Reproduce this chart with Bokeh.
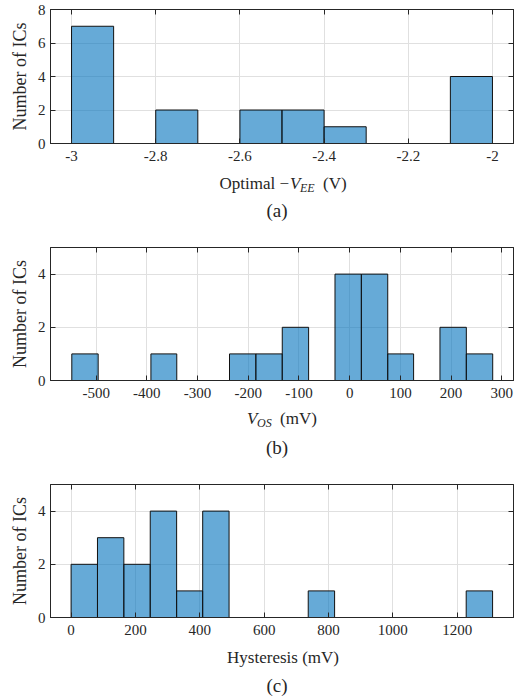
from bokeh.plotting import figure
from bokeh.models import ColumnDataSource, Range1d, FixedTicker, LinearAxis
from bokeh.layouts import column
from bokeh.embed import file_html
from bokeh.resources import INLINE
from bokeh.core.properties import value

# ---------------- data ----------------
vee_edges = [-3.0, -2.9, -2.8, -2.7, -2.6, -2.5, -2.4, -2.3, -2.2, -2.1, -2.0]
vee_counts = [7, 0, 2, 0, 2, 2, 1, 0, 0, 4]
vee_xticks = [-3.0, -2.8, -2.6, -2.4, -2.2, -2.0]
vee_xlabels = ["-3", "-2.8", "-2.6", "-2.4", "-2.2", "-2"]
vee_yticks = [0, 2, 4, 6, 8]

vos_edges = [-548, -496, -444, -392, -341, -289, -237, -185, -133, -81, -29,
             23, 75, 126, 178, 230, 282]
vos_counts = [1, 0, 0, 1, 0, 0, 1, 1, 2, 0, 4, 4, 1, 0, 2, 1]
vos_xticks = [-500, -400, -300, -200, -100, 0, 100, 200, 300]
vos_xlabels = ["-500", "-400", "-300", "-200", "-100", "0", "100", "200", "300"]
vos_yticks = [0, 2, 4]

hys_edges = [0, 82, 164, 246, 328, 409, 491, 573, 655, 737, 819, 901, 983,
             1064, 1146, 1228, 1310]
hys_counts = [2, 3, 2, 4, 1, 4, 0, 0, 0, 1, 0, 0, 0, 0, 0, 1]
hys_xticks = [0, 200, 400, 600, 800, 1000, 1200]
hys_xlabels = ["0", "200", "400", "600", "800", "1000", "1200"]
hys_yticks = [0, 2, 4]

ylabel_text = "Number of ICs"
captions = ["(a)", "(b)", "(c)"]

# ---------------- style ----------------
FONT = "Liberation Serif"
AX = "#262626"
BL, FW, BR = 50, 463, 12


def make_panel(edges, counts, xr, yr, xticks, xlabels, yticks, fh, bt, bb):
    p = figure(frame_width=FW, frame_height=fh,
               x_range=xr, y_range=Range1d(*yr),
               output_backend="svg", toolbar_location=None,
               min_border_left=BL, min_border_right=BR,
               min_border_top=bt, min_border_bottom=bb,
               background_fill_color="white", border_fill_color="white")
    src = ColumnDataSource(dict(left=edges[:-1], right=edges[1:],
                                top=counts, bottom=[0] * len(counts)))
    p.quad(left="left", right="right", top="top", bottom="bottom", source=src,
           fill_color="#0072BD", fill_alpha=0.6, line_color="#111111",
           line_width=1)

    p.add_layout(LinearAxis(), "above")
    p.add_layout(LinearAxis(), "right")

    xt = FixedTicker(ticks=xticks)
    yt = FixedTicker(ticks=yticks)
    for ax in p.xaxis:
        ax.ticker = xt
    for ax in p.yaxis:
        ax.ticker = yt
    for ax in list(p.xaxis) + list(p.yaxis):
        ax.major_tick_in = 5
        ax.major_tick_out = 0
        ax.minor_tick_line_color = None
        ax.axis_line_color = AX
        ax.major_tick_line_color = AX
        ax.major_label_text_font = FONT
        ax.major_label_text_color = AX
        ax.major_label_text_font_size = "15px"
    for ax in (p.above[0], p.right[0]):
        ax.major_label_text_color = None
        ax.major_label_text_font_size = "1px"
        ax.major_label_standoff = 0

    bx = p.below[0]
    bx.major_label_overrides = {t: l for t, l in zip(xticks, xlabels)}
    bx.major_label_standoff = 7
    ly = p.left[0]
    ly.major_label_standoff = 5
    ly.axis_label = ylabel_text
    ly.axis_label_text_font = FONT
    ly.axis_label_text_font_style = "normal"
    ly.axis_label_text_font_size = "18px"
    ly.axis_label_text_color = AX
    ly.axis_label_standoff = 5

    p.xgrid.ticker = xt
    p.ygrid.ticker = yt
    p.xgrid.grid_line_color = "#e0e0e0"
    p.ygrid.grid_line_color = "#e0e0e0"
    p.outline_line_color = AX
    p.outline_line_alpha = 1
    return p


def make_strip(xr, h):
    s = figure(frame_width=FW, frame_height=h, x_range=xr,
               y_range=Range1d(0, h),
               output_backend="svg", toolbar_location=None,
               x_axis_type=None, y_axis_type=None,
               min_border_left=BL, min_border_right=BR,
               min_border_top=0, min_border_bottom=0,
               background_fill_color="white", border_fill_color="white")
    s.outline_line_color = None
    s.xgrid.visible = False
    s.ygrid.visible = False
    return s


def txt(s, xr, text, dx, y, size, italic=False, align="left",
        baseline="alphabetic"):
    mid = (xr.start + xr.end) / 2
    s.text(x=[mid], y=[y], text=[text], x_offset=dx, text_font=value(FONT),
           text_font_size=value(size),
           text_font_style="italic" if italic else "normal",
           text_color=AX, text_align=align, text_baseline=baseline)


# ---- panel (a)
xra = Range1d(-3.05, -1.95)
pa = make_panel(vee_edges, vee_counts, xra, (0, 8),
                vee_xticks, vee_xlabels, vee_yticks, 134, 9, 22)
ha = 65
sa = make_strip(xra, ha)
d0 = 8
yb = ha - 18
txt(sa, xra, "Optimal \u2212", d0 - 1, yb, "17px", align="right")
txt(sa, xra, "V", d0, yb, "17px", italic=True)
txt(sa, xra, "EE", d0 + 10, yb - 4, "12px", italic=True)
txt(sa, xra, "(V)", d0 + 33, yb, "17px")
txt(sa, xra, captions[0], -5, ha - 45, "19px", align="center", baseline="middle")

# ---- panel (b)
xrb = Range1d(-590, 323)
pb = make_panel(vos_edges, vos_counts, xrb, (0, 5),
                vos_xticks, vos_xlabels, vos_yticks, 133, 17, 22)
hb = 65
sb = make_strip(xrb, hb)
d0 = -35
yb = hb - 16
txt(sb, xrb, "V", d0, yb, "17px", italic=True)
txt(sb, xrb, "OS", d0 + 10, yb - 4, "12px", italic=True)
txt(sb, xrb, "(mV)", d0 + 33, yb, "17px")
txt(sb, xrb, captions[1], -5, hb - 45, "19px", align="center", baseline="middle")

# ---- panel (c)
xrc = Range1d(-64, 1375)
pc = make_panel(hys_edges, hys_counts, xrc, (0, 5),
                hys_xticks, hys_xlabels, hys_yticks, 133, 17, 22)
hc = 57
sc = make_strip(xrc, hc)
txt(sc, xrc, "Hysteresis (mV)", 1, hc - 18, "17px", align="center")
txt(sc, xrc, captions[2], -5, hc - 46, "19px", align="center", baseline="middle")

layout = column(pa, sa, pb, sb, pc, sc, spacing=0)
open("out.html", "w").write(file_html(layout, INLINE))
